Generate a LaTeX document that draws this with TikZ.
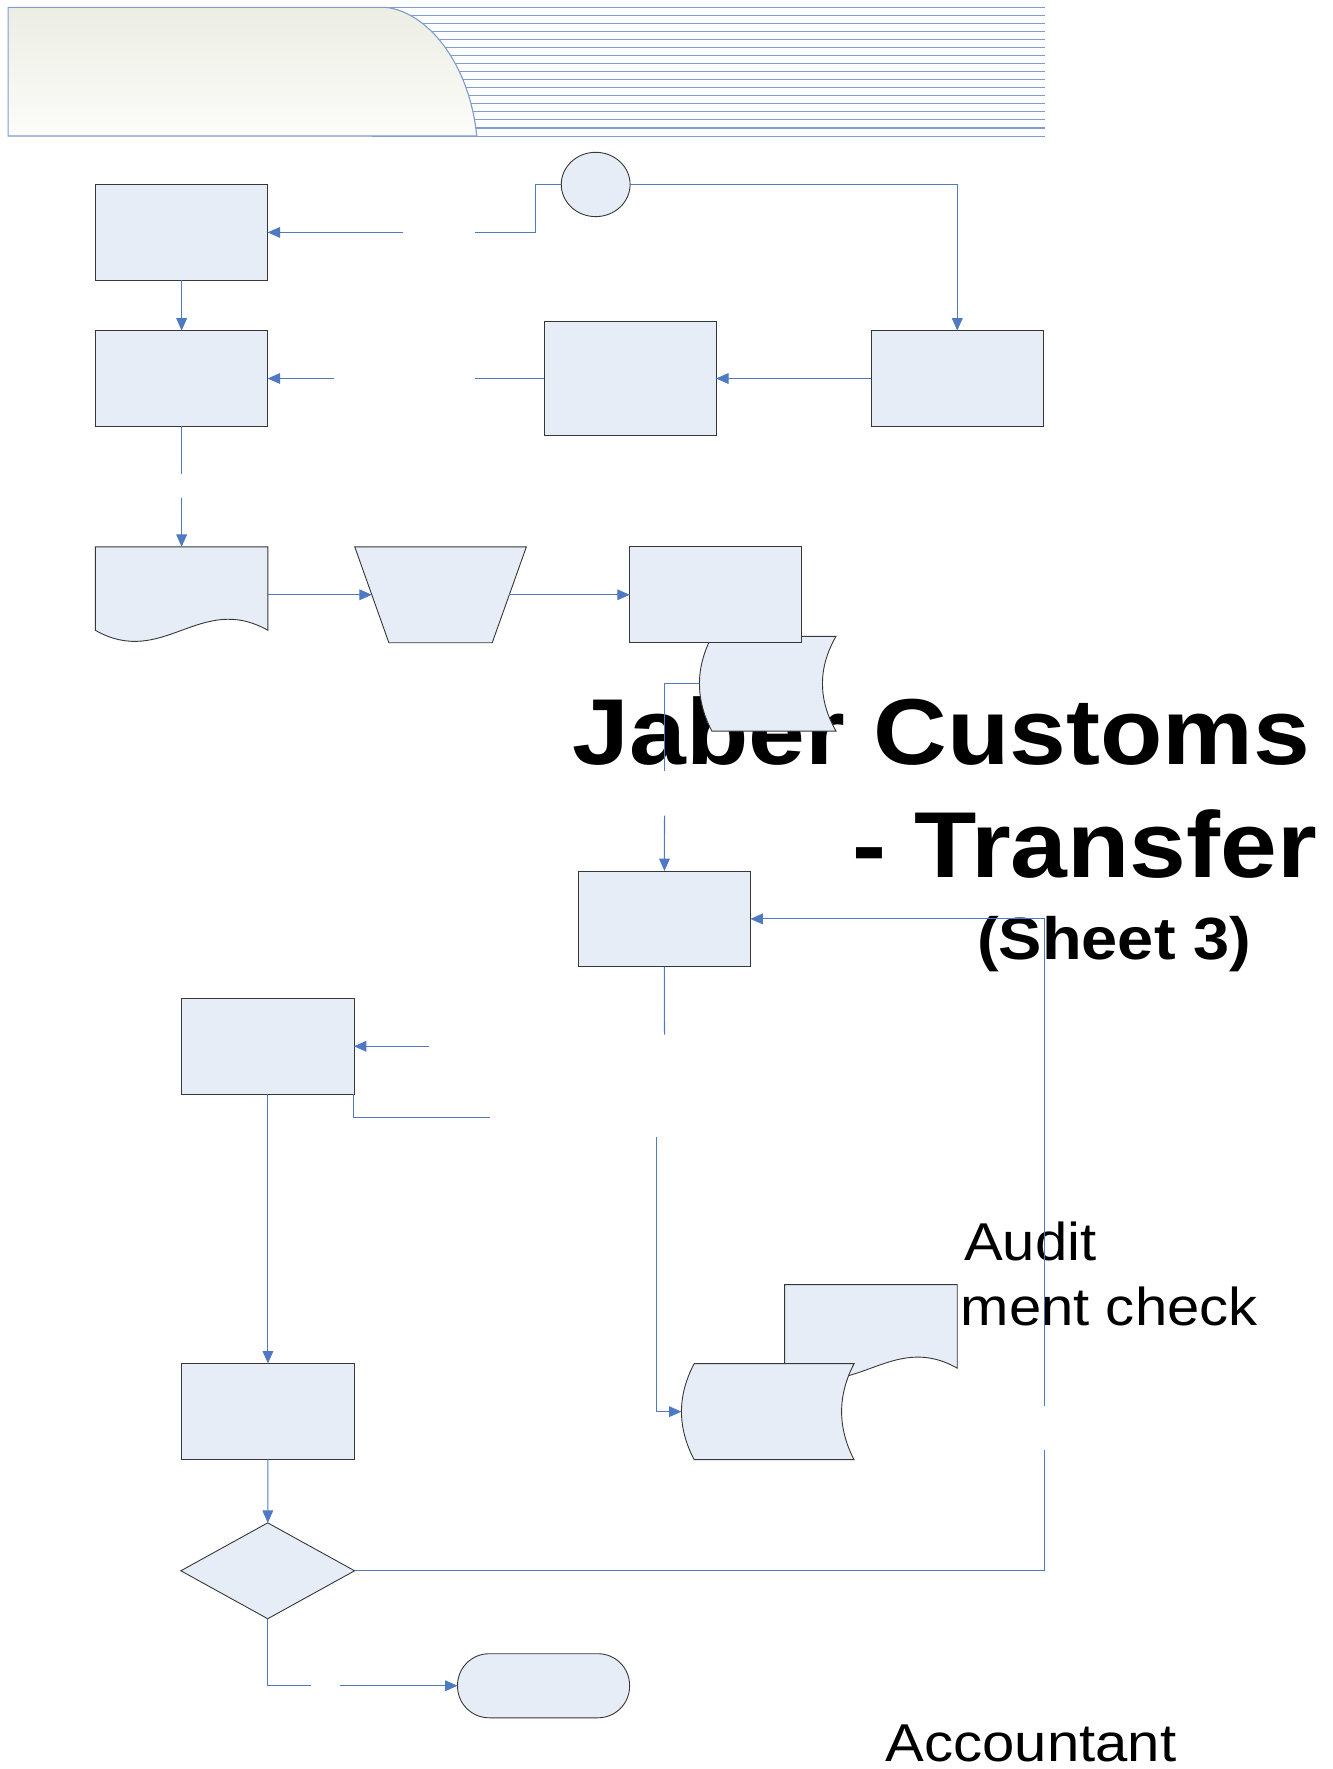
\documentclass[tikz,border=0pt]{standalone}
\usepackage{fontspec}
\usepackage{tikz}
\usetikzlibrary{shapes,arrows}
\usetikzlibrary{shapes.geometric,arrows.meta}
\newfontfamily\diagfont[FakeStretch=1.09]{Liberation Sans}
\definecolor{boxfill}{RGB}{231,237,247}
\definecolor{boxline}{RGB}{55,55,55}
\definecolor{linkblue}{RGB}{79,121,196}
\definecolor{bandline}{RGB}{128,156,206}
\definecolor{bandtop}{RGB}{236,238,228}
\definecolor{bandbottom}{RGB}{252,252,249}

\begin{document}
\begin{tikzpicture}
		[
		x = 1pt, y = -1pt,
		process/.style = {draw=boxline, fill=boxfill, line width=0.8pt, inner sep=0pt, outer sep=0pt, minimum width=152.5pt, minimum height=85pt},
		anchorbox/.style = {inner sep=0pt, outer sep=0pt, minimum width=153pt, minimum height=85pt},
		outline/.style = {draw=boxline, fill=boxfill, line width=0.8pt},
		flow/.style = {draw=linkblue, line width=0.9pt},
		arrowflow/.style = {flow, -{Triangle[length=11pt,width=9.5pt]}},
		title/.style = {anchor=base west, inner sep=0pt, font=\diagfont\bfseries\fontsize{83}{83}\selectfont},
		subtitle/.style = {anchor=base west, inner sep=0pt, font=\diagfont\bfseries\fontsize{52.8}{52.8}\selectfont},
		role/.style = {anchor=base west, inner sep=0pt, font=\diagfont\fontsize{47.2}{47.2}\selectfont},
		]
		
		\useasboundingbox (0,0) rectangle (1181,1568);
		
		\foreach \k in {0,...,16}
			\draw[bandline, line width=0.9pt] (330,6.5+7.13*\k) -- (926,6.5+7.13*\k);
		\draw[draw=bandline, line width=1pt, top color=bandtop, bottom color=bandbottom]
			(7.2,6.5) -- (341.6,6.5) .. controls (378,10) and (416,55) .. (422.6,120.6) -- (7.2,120.6) -- cycle;
		
		\node[title] (titleA) at (507.5,678) {Jaber Customs};
		\node[title] (titleB) at (755,777.6) {- Transfer};
		\node[subtitle] (titleC) at (866,850.5) {(Sheet 3)};
		\node[role] (roleA) at (854.5,1117) {Audit};
		\node[role] (roleB) at (851.5,1174.7) {ment check};
		\node[role] (roleC) at (785,1561) {Accountant};
		
		\node[process] (boxA) at (161,206) {};
		\node[process] (boxB) at (161,335.5) {};
		\node[process, minimum height=101pt] (boxC) at (558.5,335.5) {};
		\node[process] (boxD) at (848.5,335.5) {};
		\node[ellipse, outline, minimum width=61pt, minimum height=57pt, inner sep=0pt, outer sep=0pt] (ovalS) at (528,163.5) {};
		
		\node[anchorbox] (docE) at (161,527.2) {};
		\draw[outline] (84.5,484.7) -- (237.5,484.7) -- (237.5,558.7)
			.. controls (177.5,524.7) and (144.5,592.7) .. (84.5,558.7) -- cycle;
		\node[trapezium, trapezium angle=70.4, shape border rotate=180, outline, minimum width=0pt, minimum height=0pt, inner xsep=45.8pt, inner ysep=42.5pt, outer sep=0pt] (trapF) at (390.5,527.2) {};
		
		\node[anchorbox, minimum width=121pt] (storeH) at (680.5,606) {};
		\draw[outline] (631,564) -- (741,564) .. controls (725,592) and (725,620) .. (741,648)
			-- (631,648) .. controls (616.3,620) and (616.3,592) .. (631,564) -- cycle;
		\node[process] (boxG) at (634.4,527.2) {};
		
		\node[process] (boxI) at (588.9,814.5) {};
		\node[process] (boxJ) at (237.5,927.4) {};
		\node[process] (boxK) at (237.5,1251) {};
		\node[diamond, outline, minimum width=154pt, minimum height=85pt, inner sep=0pt, outer sep=0pt] (diaL) at (237.3,1392.3) {};
		\node[process, minimum height=56.8pt, rounded corners=28pt] (termM) at (481.8,1494.2) {};
		
		\node[anchorbox] (docN) at (772,1181.2) {};
		\draw[outline] (695.5,1138.7) -- (848.5,1138.7) -- (848.5,1212.7)
			.. controls (788.5,1178.7) and (755.5,1246.7) .. (695.5,1212.7) -- cycle;
		\node[anchorbox] (storeO) at (680.5,1251.25) {};
		\draw[outline] (615.3,1208.7) -- (757,1208.7) .. controls (742.3,1237) and (742.3,1265.5) .. (757,1293.8)
			-- (615.3,1293.8) .. controls (600.3,1265.5) and (600.3,1237) .. (615.3,1208.7) -- cycle;
		
		\coordinate (gapA1) at (421,206);
		\coordinate (gapA2) at (357.5,206);
		\coordinate (gapB1) at (421,335.5);
		\coordinate (gapB2) at (296,335.5);
		\coordinate (gapC1) at (161,420);
		\coordinate (gapC2) at (161,441);
		\coordinate (gapD1) at (589,683);
		\coordinate (gapD2) at (589,723);
		\coordinate (gapE1) at (589,917);
		\coordinate (gapF1) at (581.5,1008);
		\coordinate (gapG1) at (380.4,927.4);
		\coordinate (gapG2) at (434.3,990.6);
		\coordinate (gapH1) at (925.5,1285.6);
		\coordinate (gapH2) at (925.5,1246);
		\coordinate (gapK1) at (275.7,1494.2);
		\coordinate (gapK2) at (301,1494.2);
		
		\draw[flow] (ovalS.west) -- ++(-23.2,0) |- (gapA1);
		\draw[arrowflow] (gapA2) -- (boxA);
		\draw[arrowflow] (ovalS.east) -| (boxD.north);
		\draw[arrowflow] (boxA) -- (boxB);
		\draw[arrowflow] (boxD) -- (boxC);
		\draw[flow] (boxC.west) -- (gapB1);
		\draw[arrowflow] (gapB2) -- (boxB);
		\draw[flow] (boxB.south) -- (gapC1);
		\draw[arrowflow] (gapC2) -- (docE.north);
		\draw[arrowflow] (docE.east) -- (trapF);
		\draw[arrowflow] (trapF) -- (boxG);
		\draw[flow] (storeH.west) -| (gapD1);
		\draw[arrowflow] (gapD2) -- (boxI);
		\draw[flow] (boxI.south) -- (gapE1);
		\draw[arrowflow] (gapF1) |- (storeO.west);
		\draw[arrowflow] (gapG1) -- (boxJ);
		\draw[flow] (boxJ.south east) |- (gapG2);
		\draw[arrowflow] (boxJ) -- (boxK);
		\draw[arrowflow] (boxK) -- (diaL);
		\draw[flow] (diaL.east) -| (gapH1);
		\draw[arrowflow] (gapH2) |- (boxI.east);
		\draw[flow] (diaL.south) |- (gapK1);
		\draw[arrowflow] (gapK2) -- (termM);
		
		\end{tikzpicture}
\end{document}
